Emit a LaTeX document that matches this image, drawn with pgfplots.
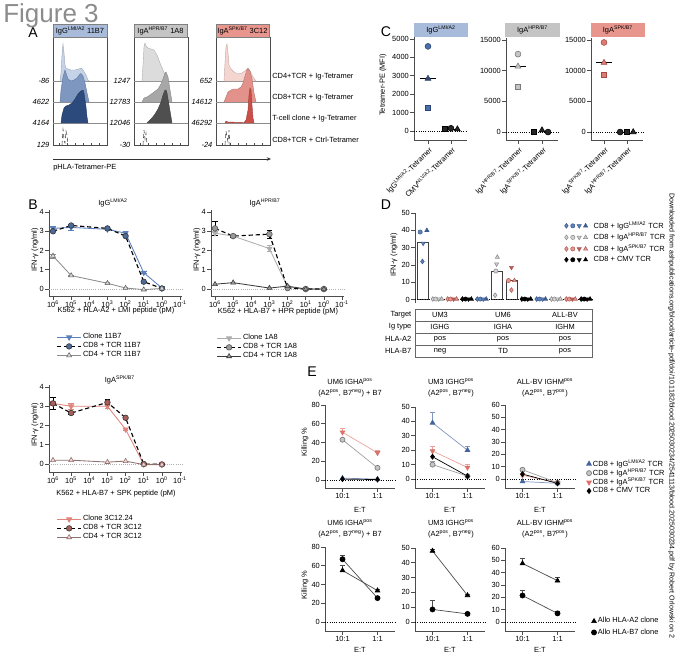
\documentclass[border=0pt]{standalone}
\usepackage{fontspec}
\setmainfont{Liberation Sans}
\usepackage{pgfplots}
\pgfplotsset{compat=1.18}
\usetikzlibrary{arrows.meta}
\pgfkeys{/pgf/number format/.cd, assume math mode=true, 1000 sep={}}

% headers
\definecolor{hdrA}{HTML}{A8BBDA}
\definecolor{hdrB}{HTML}{C4C4C4}
\definecolor{hdrC}{HTML}{E8968D}
% histograms
\definecolor{hb1}{HTML}{C5D3E8}\definecolor{hb2}{HTML}{7D97C0}\definecolor{hb3}{HTML}{2D4A7C}
\definecolor{hg1}{HTML}{DCDCDC}\definecolor{hg2}{HTML}{A7A7A7}\definecolor{hg3}{HTML}{4F4F4F}
\definecolor{hr1}{HTML}{F5D5D0}\definecolor{hr2}{HTML}{E2928A}\definecolor{hr3}{HTML}{C94F48}
% panel C
\definecolor{cb}{HTML}{4A70AB}\definecolor{cbd}{HTML}{2B4570}\definecolor{cnavy}{HTML}{34496E}
\definecolor{cg}{HTML}{C4C4C4}\definecolor{cgd}{HTML}{7A7A7A}
\definecolor{cr}{HTML}{DD7C74}\definecolor{crd}{HTML}{A64A43}
% panel B
\definecolor{b1c}{HTML}{5B80BC}\definecolor{b1d}{HTML}{4C6A97}\definecolor{b1g}{HTML}{8C8C8C}
\definecolor{b2c}{HTML}{ADADAD}\definecolor{b2d}{HTML}{9A9A9A}\definecolor{b2g}{HTML}{3A3A3A}
\definecolor{b3c}{HTML}{E0837A}\definecolor{b3d}{HTML}{A65F5A}\definecolor{b3g}{HTML}{8E7070}
% panel D
\definecolor{dbf}{HTML}{6283B9}\definecolor{dbd}{HTML}{3D5C8F}
\definecolor{dgf}{HTML}{D3D3D3}\definecolor{dgd}{HTML}{8C8C8C}
\definecolor{drf}{HTML}{E39991}\definecolor{drd}{HTML}{B35C55}
% panel E
\definecolor{eb}{HTML}{44649C}\definecolor{ebl}{HTML}{8197C0}
\definecolor{eg}{HTML}{C6C6C6}\definecolor{egd}{HTML}{7E7E7E}\definecolor{egl}{HTML}{A0A0A0}
\definecolor{er}{HTML}{D9726A}\definecolor{erl}{HTML}{E8A39C}

\newcommand{\ft}{\fontsize{5.3}{6}\selectfont}
\newcommand{\ftt}{\fontsize{5.3}{7.6}\selectfont}
\newcommand{\fbig}{\fontsize{10}{12}\selectfont}
\newcommand{\tsup}[1]{\textsuperscript{#1}}

\pgfplotsset{
  base/.style={scale only axis, clip=false,
    axis lines*=left,
    axis line style={-, line width=0.5pt, black!70},
    every tick/.style={line width=0.5pt, black!70},
    major tick length=2.5pt, minor tick length=1.5pt,
    tick align=outside,
    tick label style={font=\ft, inner sep=1pt},
    scaled ticks=false,
    legend style={draw=none, fill=none, font=\ft, legend cell align=left,
      anchor=north west, row sep=-0.8pt, nodes={inner sep=1pt}},
  },
  hbox/.style={scale only axis, width=1.35cm, height=2.7cm,
    xmin=0, xmax=54, ymin=0, ymax=108,
    axis line style={line width=0.4pt, black!70},
    ytick=\empty, xtick={6,14,22,30,38,46}, xticklabels={},
    xtick pos=bottom, tick align=inside, major tick length=1.5pt,
    every tick/.style={black!70, line width=0.4pt}},
  bax/.style={base, width=3.325cm,
    xmin=0.0776, xmax=1.66e6,
    xtick={1e6,1e5,1e4,1e3,1e2,1e1,1e0,1e-1},
    xticklabels={10\tsup{6},10\tsup{5},10\tsup{4},10\tsup{3},10\tsup{2},10\tsup{1},10\tsup{0},10\tsup{-1}},
    ytick={0,1,2,3,4}, ymax=4.104},
  ebar/.style={error bars/y dir=plus, error bars/y explicit,
    error bars/error bar style={solid, line width=0.4pt}},
  bbar/.style={error bars/y dir=both, error bars/y explicit,
    error bars/error bar style={solid, line width=0.4pt}},
  eax/.style={base, width=1.75cm, xmin=0.5, xmax=2.5, xtick={1,2},
    xticklabels={10:1,1:1}},
}

\begin{document}
\begin{tikzpicture}[x=0.025cm, y=-0.025cm]
\path[use as bounding box] (0,0) rectangle (680,660);
\coordinate (a1) at (53,37); \coordinate (a2) at (134,37); \coordinate (a3) at (216,37);
\coordinate (c1) at (414,37); \coordinate (c2) at (506,38); \coordinate (c3) at (591,38);
\coordinate (b1) at (49,210); \coordinate (b2) at (211,210); \coordinate (b3) at (49,385);
\coordinate (d1) at (415,213);
\coordinate (e1) at (325,405); \coordinate (e2) at (415,407); \coordinate (e3) at (505,405);
\coordinate (e4) at (325,547); \coordinate (e5) at (415,548); \coordinate (e6) at (505,548);

% ---------------- A: histograms
\begin{axis}[hbox, at={(a1)}, anchor=north west]
\addplot[black!45, line width=0.3pt, forget plot] coordinates {(0,22) (54,22)};
\addplot[black!45, line width=0.3pt, forget plot] coordinates {(0,43) (54,43)};
\addplot[black!45, line width=0.3pt, forget plot] coordinates {(0,64) (54,64)};
\addplot[fill=hb1, draw=hb1!80!black, line width=0.3pt] coordinates {(7,64) (8,72) (9,90) (10,101) (11,92) (12,80) (13,77) (15,76) (18,75) (22,75) (26,76) (28,77) (30,75) (33,70) (35,65) (36,64)};
\addplot[fill=hb2, draw=hb2!80!black, line width=0.3pt] coordinates {(7,43) (8,55) (10,68) (12,75) (13,72) (15,66) (18,64) (21,65) (24,67) (27,71) (28,71.5) (30,69) (32,62) (34,52) (36,43)};
\addplot[fill=hb3, draw=hb3!80!black, line width=0.3pt] coordinates {(8,22) (9,30) (11,37) (13,39) (16,40) (19,42) (22,46) (25,51) (28,54) (30,55) (31,52) (33,38) (34,28) (35,22)};
\addplot[black!70, densely dashed, line width=0.4pt] coordinates {(9,0) (10,16) (10.5,13) (11,4) (12,2) (13,14) (14,10) (15,0)};
\end{axis}
\begin{axis}[hbox, at={(a2)}, anchor=north west]
\addplot[black!45, line width=0.3pt, forget plot] coordinates {(0,22) (54,22)};
\addplot[black!45, line width=0.3pt, forget plot] coordinates {(0,43) (54,43)};
\addplot[black!45, line width=0.3pt, forget plot] coordinates {(0,64) (54,64)};
\addplot[fill=hg1, draw=hg1!80!black, line width=0.3pt] coordinates {(8,64) (9,80) (10,98) (11,102) (12,99) (14,97) (17,96) (20,95) (23,90) (26,82) (29,75) (32,68) (34,64)};
\addplot[fill=hg2, draw=hg2!80!black, line width=0.3pt] coordinates {(8,43) (10,47) (13,48) (16,50) (20,53) (24,56) (27,61) (29,66) (31,72) (32,73) (34,68) (36,55) (38,43)};
\addplot[fill=hg3, draw=hg3!80!black, line width=0.3pt] coordinates {(13,22) (15,24) (18,27) (21,31) (24,36) (27,43) (29,50) (31,55) (32,55) (33,52) (35,40) (37,28) (38,22)};
\addplot[black!70, densely dashed, line width=0.4pt] coordinates {(9,0) (10,15) (11,6) (12,12) (13,0)};
\end{axis}
\begin{axis}[hbox, at={(a3)}, anchor=north west]
\addplot[black!45, line width=0.3pt, forget plot] coordinates {(0,22) (54,22)};
\addplot[black!45, line width=0.3pt, forget plot] coordinates {(0,43) (54,43)};
\addplot[black!45, line width=0.3pt, forget plot] coordinates {(0,64) (54,64)};
\addplot[fill=hr1, draw=hr1!80!black, line width=0.3pt] coordinates {(8,64) (9,82) (10,98) (11,101) (12,92) (13,80) (15,76) (18,73) (22,71) (26,72) (30,75) (32,77) (34,74) (37,68) (40,64)};
\addplot[fill=hr2, draw=hr2!80!black, line width=0.3pt] coordinates {(8,43) (10,48) (12,53) (15,55) (18,56) (22,56) (25,58) (27,62) (29,69) (31,75) (32,76) (34,74) (36,66) (38,52) (40,43)};
\addplot[fill=hr3, draw=hr3!80!black, line width=0.3pt] coordinates {(9,22) (10,24) (12,23) (28,22.5) (30,25) (32,35) (33,50) (34,57) (35,55) (36,40) (37,27) (38,22)};
\addplot[black!70, densely dashed, line width=0.4pt] coordinates {(9,0) (10,14) (11,8) (12,3) (13,15) (14,0)};
\end{axis}

% ---------------- C: tetramer MFI
\begin{axis}[base, at={(c1)}, anchor=north west, width=1.325cm, height=2.575cm,
  xmin=0.39, xmax=2.7, ymin=-489, ymax=5109, ytick={0,1000,...,5000}, xtick={1,2},
  xticklabels={IgG\tsup{LMI/A2}-Tetramer, CMV\tsup{NLV/A2}-Tetramer},
  xticklabel style={rotate=45, anchor=north east}]
\addplot[black, densely dotted, line width=0.6pt] coordinates {(0.39,0) (2.7,0)};
\addplot[black, line width=0.6pt] coordinates {(0.67,2850) (1.33,2850)};
\addplot[only marks, mark=*, mark size=2.1pt, mark options={fill=cb, draw=cbd}] coordinates {(1,4600)};
\addplot[only marks, mark=triangle*, mark size=2.4pt, mark options={fill=cnavy, draw=cnavy}] coordinates {(1,2850)};
\addplot[only marks, mark=square*, mark size=1.8pt, mark options={fill=cb, draw=cbd}] coordinates {(1,1250)};
\addplot[black, line width=0.6pt] coordinates {(1.67,110) (2.33,110)};
\addplot[only marks, mark=square*, mark size=1.8pt, mark options={fill=black!85, draw=black}] coordinates {(1.72,100)};
\addplot[only marks, mark=*, mark size=2.1pt, mark options={fill=black!85, draw=black}] coordinates {(2,150)};
\addplot[only marks, mark=triangle*, mark size=2.4pt, mark options={fill=black!85, draw=black}] coordinates {(2.28,100)};
\end{axis}
\begin{axis}[base, at={(c2)}, anchor=north west, width=1.3cm, height=2.55cm,
  xmin=0.5, xmax=2.667, ymin=-1304, ymax=15326, ytick={0,5000,10000,15000}, xtick={1,2},
  xticklabels={IgA\tsup{HPR/B7}-Tetramer, IgA\tsup{SPK/B7}-Tetramer},
  xticklabel style={rotate=45, anchor=north east}]
\addplot[black, densely dotted, line width=0.6pt] coordinates {(0.5,0) (2.667,0)};
\addplot[black, line width=0.6pt] coordinates {(0.67,10700) (1.33,10700)};
\addplot[only marks, mark=*, mark size=2.1pt, mark options={fill=cg, draw=cgd}] coordinates {(1,12700)};
\addplot[only marks, mark=triangle*, mark size=2.4pt, mark options={fill=cg, draw=cgd}] coordinates {(1,10700)};
\addplot[only marks, mark=square*, mark size=1.8pt, mark options={fill=cg, draw=cgd}] coordinates {(1,7300)};
\addplot[only marks, mark=square*, mark size=1.8pt, mark options={fill=black!85, draw=black}] coordinates {(1.67,0)};
\addplot[only marks, mark=triangle*, mark size=2.4pt, mark options={fill=black!85, draw=black}] coordinates {(2,300)};
\addplot[only marks, mark=*, mark size=2.1pt, mark options={fill=black!85, draw=black}] coordinates {(2.25,0)};
\end{axis}
\begin{axis}[base, at={(c3)}, anchor=north west, width=1.3cm, height=2.55cm,
  xmin=0.435, xmax=2.696, ymin=-1304, ymax=15326, ytick={0,5000,10000,15000}, xtick={1,2},
  xticklabels={IgA\tsup{SPK/B7}-Tetramer, IgA\tsup{HPR/B7}-Tetramer},
  xticklabel style={rotate=45, anchor=north east}]
\addplot[black, densely dotted, line width=0.6pt] coordinates {(0.435,0) (2.696,0)};
\addplot[black, line width=0.6pt] coordinates {(0.67,11300) (1.33,11300)};
\addplot[only marks, mark=*, mark size=2.1pt, mark options={fill=cr, draw=crd}] coordinates {(1,14600)};
\addplot[only marks, mark=triangle*, mark size=2.4pt, mark options={fill=cr, draw=crd}] coordinates {(1,11300)};
\addplot[only marks, mark=square*, mark size=1.8pt, mark options={fill=cr, draw=crd}] coordinates {(1,9300)};
\addplot[only marks, mark=*, mark size=2.1pt, mark options={fill=black!85, draw=black}] coordinates {(1.7,0)};
\addplot[only marks, mark=square*, mark size=1.8pt, mark options={fill=black!85, draw=black}] coordinates {(2,0)};
\addplot[only marks, mark=triangle*, mark size=2.4pt, mark options={fill=black!85, draw=black}] coordinates {(2.27,0)};
\end{axis}

% ---------------- B: IFN-gamma dose response
\begin{axis}[xmode=log, x dir=reverse, bax, at={(b1)}, anchor=north west, height=2.15cm, ymin=-0.364,
  legend style={at={(0.023,-0.384)}}]
\addplot[forget plot, gray!60, densely dotted, line width=0.5pt] coordinates {(1.66e6,0) (0.0776,0)};
\addplot[b1c, line width=0.6pt, mark=triangle*, mark size=2pt, mark options={solid, rotate=180, fill=b1c, draw=b1c}, bbar]
  coordinates {(1e6,3.15) +- (0,0.1) (1e5,3.2) +- (0,0.15) (1e3,3.1) +- (0,0.05) (1e2,2.9) +- (0,0.1) (1e1,0.85) +- (0,0.05) (1e0,0.05) +- (0,0.02)};
\addplot[black, densely dashed, line width=0.8pt, mark=*, mark size=2pt, mark options={solid, fill=b1d, draw=black!80, line width=0.4pt}]
  coordinates {(1e6,3.0) (1e5,3.3) (1e3,3.15) (1e2,2.75) (1e1,0.38) (1e0,0.03)};
\addplot[b1g, line width=0.6pt, mark=triangle*, mark size=2pt, mark options={solid, fill=gray!30, draw=black!60, line width=0.4pt}, bbar]
  coordinates {(1e6,1.72) +- (0,0.1) (1e5,0.7) +- (0,0.03) (1e3,0.3) +- (0,0.03) (1e2,0.05) +- (0,0.02) (1e1,-0.03) +- (0,0.02) (1e0,0.03) +- (0,0.02)};
\legend{Clone 11B7, CD8 + TCR 11B7, CD4 + TCR 11B7}
\end{axis}
\begin{axis}[xmode=log, x dir=reverse, bax, at={(b2)}, anchor=north west, height=2.15cm, ymin=-0.364,
  legend style={at={(0.0075,-0.395)}}]
\addplot[forget plot, gray!60, densely dotted, line width=0.5pt] coordinates {(1.66e6,0) (0.0776,0)};
\addplot[b2c, line width=0.6pt, mark=triangle*, mark size=2pt, mark options={solid, rotate=180, fill=b2c, draw=b2c}, bbar]
  coordinates {(1e6,2.9) +- (0,0.1) (1e5,2.75) +- (0,0.05) (1e3,2.1) +- (0,0.15) (1e2,0.1) +- (0,0.03) (1e1,0) +- (0,0.02) (1e0,0) +- (0,0.02)};
\addplot[black, densely dashed, line width=0.8pt, mark=*, mark size=2pt, mark options={solid, fill=b2d, draw=black!70, line width=0.4pt}, bbar]
  coordinates {(1e6,3.15) +- (0,0.35) (1e5,2.75) +- (0,0.05) (1e3,2.85) +- (0,0.2) (1e2,0.05) +- (0,0.02) (1e1,0) +- (0,0.02) (1e0,0) +- (0,0.02)};
\addplot[b2g, line width=0.6pt, mark=triangle*, mark size=2pt, mark options={solid, fill=b2d, draw=b2g, line width=0.4pt}]
  coordinates {(1e6,0.25) (1e5,0.33) (1e3,0.05) (1e2,0.15) (1e1,0) (1e0,0)};
\legend{Clone 1A8, CD8 + TCR 1A8, CD4 + TCR 1A8}
\end{axis}
\begin{axis}[xmode=log, x dir=reverse, bax, at={(b3)}, anchor=north west, height=2.175cm, ymin=-0.416,
  legend style={at={(0.023,-0.448)}}]
\addplot[forget plot, gray!60, densely dotted, line width=0.5pt] coordinates {(1.66e6,0) (0.0776,0)};
\addplot[b3c, line width=0.6pt, mark=triangle*, mark size=2pt, mark options={solid, rotate=180, fill=b3c, draw=b3c}, bbar]
  coordinates {(1e6,3.15) +- (0,0.1) (1e5,3.0) +- (0,0.15) (1e3,3.0) +- (0,0.1) (1e2,1.8) +- (0,0.05) (1e1,-0.02) +- (0,0.02) (1e0,-0.02) +- (0,0.02)};
\addplot[black, densely dashed, line width=0.8pt, mark=*, mark size=2pt, mark options={solid, fill=b3d, draw=black!80, line width=0.4pt}, bbar]
  coordinates {(1e6,3.15) +- (0,0.3) (1e5,2.65) +- (0,0.05) (1e3,3.2) +- (0,0.15) (1e2,2.4) +- (0,0.05) (1e1,0) +- (0,0.02) (1e0,-0.02) +- (0,0.02)};
\addplot[b3g, line width=0.6pt, mark=triangle*, mark size=2pt, mark options={solid, fill=b3c!35, draw=b3g, line width=0.4pt}]
  coordinates {(1e6,0.2) (1e5,0.2) (1e3,0.1) (1e2,0.15) (1e1,-0.03) (1e0,-0.03)};
\legend{Clone 3C12.24, CD8 + TCR 3C12, CD4 + TCR 3C12}
\end{axis}

% ---------------- D: IFN-gamma against targets
\begin{axis}[base, at={(d1)}, anchor=north west, width=4.45cm, height=2.25cm,
  axis x line=none, xtick=\empty, xmin=-0.5, xmax=11.5, ymin=-2, ymax=50,
  ytick={0,10,...,50}, legend style={at={(0.815,0.956)}, row sep=0pt}]
\addplot[forget plot, ybar, bar width=0.275cm, fill=white, draw=black!75, line width=0.5pt]
  coordinates {(0,33) (1,0.4) (2,0.4) (3,0.4) (4,0.3) (5,16.5) (6,11) (7,0.4) (8,0.3) (9,0.4) (10,0.4) (11,0.3)};
\addplot[forget plot, black, densely dotted, line width=0.7pt] coordinates {(-0.5,0) (11.5,0)};
% IgG LMI/A2 TCR
\addplot[forget plot, only marks, mark=diamond*, mark size=1.7pt, mark options={fill=dbf, draw=dbd}] coordinates {(0.0,22) (3.7,0.3) (7.7,0.3)};
\addplot[forget plot, only marks, mark=*, mark size=1.5pt, mark options={fill=dbf, draw=dbd}] coordinates {(-0.15,39) (3.9,0.3) (7.9,0.3)};
\addplot[forget plot, only marks, mark=triangle*, mark size=1.7pt, mark options={rotate=180, fill=dbf, draw=dbd}] coordinates {(0.05,32.5) (4.1,0.3) (8.1,0.3)};
\addplot[forget plot, only marks, mark=triangle*, mark size=1.7pt, mark options={fill=dbd, draw=dbd}] coordinates {(0.3,40) (4.3,0.3) (8.3,0.3)};
% IgA HPR/B7 TCR
\addplot[forget plot, only marks, mark=diamond*, mark size=1.7pt, mark options={fill=dgf, draw=dgd}] coordinates {(0.7,0.3) (4.9,2.5) (8.7,0.3)};
\addplot[forget plot, only marks, mark=*, mark size=1.5pt, mark options={fill=dgf, draw=dgd}] coordinates {(0.9,0.3) (4.95,16.5) (8.9,0.3)};
\addplot[forget plot, only marks, mark=triangle*, mark size=1.7pt, mark options={rotate=180, fill=dgf, draw=dgd}] coordinates {(1.1,0.3) (5.0,20.5) (9.1,0.3)};
\addplot[forget plot, only marks, mark=triangle*, mark size=1.7pt, mark options={fill=dgf, draw=dgd}] coordinates {(1.3,0.3) (5.05,24.5) (9.3,0.3)};
% IgA SPK/B7 TCR
\addplot[forget plot, only marks, mark=diamond*, mark size=1.7pt, mark options={fill=drf, draw=drd}] coordinates {(1.7,0.3) (6.0,5.5) (9.7,0.3)};
\addplot[forget plot, only marks, mark=*, mark size=1.5pt, mark options={fill=drf, draw=drd}] coordinates {(1.9,0.3) (5.8,11) (9.9,0.3)};
\addplot[forget plot, only marks, mark=triangle*, mark size=1.7pt, mark options={rotate=180, fill=drd, draw=drd}] coordinates {(2.1,0.3) (6.0,18.5) (10.1,0.3)};
\addplot[forget plot, only marks, mark=triangle*, mark size=1.7pt, mark options={fill=drf, draw=drd}] coordinates {(2.3,0.3) (6.2,11) (10.3,0.3)};
% CMV TCR
\addplot[forget plot, only marks, mark=diamond*, mark size=1.7pt, mark options={fill=black, draw=black}] coordinates {(2.7,0.3) (6.7,0.3) (10.7,0.3)};
\addplot[forget plot, only marks, mark=*, mark size=1.5pt, mark options={fill=black, draw=black}] coordinates {(2.9,0.3) (6.9,0.3) (10.9,0.3)};
\addplot[forget plot, only marks, mark=triangle*, mark size=1.7pt, mark options={rotate=180, fill=black, draw=black}] coordinates {(3.1,0.3) (7.1,0.3) (11.1,0.3)};
\addplot[forget plot, only marks, mark=triangle*, mark size=1.7pt, mark options={fill=black, draw=black}] coordinates {(3.3,0.3) (7.3,0.3) (11.3,0.3)};
\addlegendimage{legend image code/.code={
  \draw plot[only marks, mark=diamond*, mark size=1.7pt, mark options={fill=dbf, draw=dbd}] coordinates {(0cm,0cm)};
  \draw plot[only marks, mark=*, mark size=1.5pt, mark options={fill=dbf, draw=dbd}] coordinates {(0.16cm,0cm)};
  \draw plot[only marks, mark=triangle*, mark size=1.7pt, mark options={rotate=180, fill=dbf, draw=dbd}] coordinates {(0.32cm,0cm)};
  \draw plot[only marks, mark=triangle*, mark size=1.7pt, mark options={fill=dbd, draw=dbd}] coordinates {(0.48cm,0cm)};
  \path (0.64cm,0cm);}}
\addlegendimage{legend image code/.code={
  \draw plot[only marks, mark=diamond*, mark size=1.7pt, mark options={fill=dgf, draw=dgd}] coordinates {(0cm,0cm)};
  \draw plot[only marks, mark=*, mark size=1.5pt, mark options={fill=dgf, draw=dgd}] coordinates {(0.16cm,0cm)};
  \draw plot[only marks, mark=triangle*, mark size=1.7pt, mark options={rotate=180, fill=dgf, draw=dgd}] coordinates {(0.32cm,0cm)};
  \draw plot[only marks, mark=triangle*, mark size=1.7pt, mark options={fill=dgf, draw=dgd}] coordinates {(0.48cm,0cm)};
  \path (0.64cm,0cm);}}
\addlegendimage{legend image code/.code={
  \draw plot[only marks, mark=diamond*, mark size=1.7pt, mark options={fill=drf, draw=drd}] coordinates {(0cm,0cm)};
  \draw plot[only marks, mark=*, mark size=1.5pt, mark options={fill=drf, draw=drd}] coordinates {(0.16cm,0cm)};
  \draw plot[only marks, mark=triangle*, mark size=1.7pt, mark options={rotate=180, fill=drd, draw=drd}] coordinates {(0.32cm,0cm)};
  \draw plot[only marks, mark=triangle*, mark size=1.7pt, mark options={fill=drf, draw=drd}] coordinates {(0.48cm,0cm)};
  \path (0.64cm,0cm);}}
\addlegendimage{legend image code/.code={
  \draw plot[only marks, mark=diamond*, mark size=1.7pt, mark options={fill=black, draw=black}] coordinates {(0cm,0cm)};
  \draw plot[only marks, mark=*, mark size=1.5pt, mark options={fill=black, draw=black}] coordinates {(0.16cm,0cm)};
  \draw plot[only marks, mark=triangle*, mark size=1.7pt, mark options={rotate=180, fill=black, draw=black}] coordinates {(0.32cm,0cm)};
  \draw plot[only marks, mark=triangle*, mark size=1.7pt, mark options={fill=black, draw=black}] coordinates {(0.48cm,0cm)};
  \path (0.64cm,0cm);}}
\legend{CD8 + IgG\tsup{LMI/A2} TCR, CD8 + IgA\tsup{HPR/B7} TCR, CD8 + IgA\tsup{SPK/B7} TCR, CD8 + CMV TCR}
\end{axis}

% ---------------- E: killing
\begin{axis}[eax, at={(e1)}, anchor=north west, height=2.075cm, ymin=-8.53, ymax=80, ytick={0,20,...,80}]
\addplot[forget plot, black, densely dotted, line width=0.6pt] coordinates {(0.5,0) (2.5,0)};
\addplot[ebl, line width=0.5pt, mark=triangle*, mark size=1.9pt, mark options={fill=eb, draw=eb}] coordinates {(1,2) (2,1)};
\addplot[egl, line width=0.5pt, mark=*, mark size=1.8pt, mark options={fill=eg, draw=egd}, ebar] coordinates {(1,43) +- (0,2) (2,13) +- (0,1)};
\addplot[erl, line width=0.5pt, mark=triangle*, mark size=1.9pt, mark options={rotate=180, fill=er, draw=er}, ebar] coordinates {(1,51) +- (0,4) (2,29) +- (0,3)};
\addplot[black, line width=0.5pt, mark=diamond*, mark size=1.8pt, mark options={fill=black, draw=black}] coordinates {(1,1) (2,0.5)};
\end{axis}
\begin{axis}[eax, at={(e2)}, anchor=north west, height=2.025cm, ymin=-6.25, ymax=50, ytick={0,10,...,50}]
\addplot[forget plot, black, densely dotted, line width=0.6pt] coordinates {(0.5,0) (2.5,0)};
\addplot[ebl, line width=0.5pt, mark=triangle*, mark size=1.9pt, mark options={fill=eb, draw=eb}, ebar] coordinates {(1,39) +- (0,7) (2,20) +- (0,3)};
\addplot[egl, line width=0.5pt, mark=*, mark size=1.8pt, mark options={fill=eg, draw=egd}, ebar] coordinates {(1,10) +- (0,2) (2,2) +- (0,0.5)};
\addplot[erl, line width=0.5pt, mark=triangle*, mark size=1.9pt, mark options={rotate=180, fill=er, draw=er}, ebar] coordinates {(1,19.5) +- (0,3.5) (2,8) +- (0,2)};
\addplot[black, line width=0.5pt, mark=diamond*, mark size=1.8pt, mark options={fill=black, draw=black}] coordinates {(1,15.5) (2,2)};
\end{axis}
\begin{axis}[eax, at={(e3)}, anchor=north west, height=2.075cm, ymin=-7.3, ymax=60, ytick={0,10,...,60},
  legend style={at={(1.1,0.398)}, row sep=-1.6pt},
  legend image code/.code={\draw[#1] plot[only marks] coordinates {(0.1cm,0cm)};}]
\addplot[forget plot, black, densely dotted, line width=0.6pt] coordinates {(0.5,0) (2.5,0)};
\addplot[ebl, line width=0.5pt, mark=triangle*, mark size=1.9pt, mark options={fill=eb, draw=eb}] coordinates {(1,-2) (2,-3.5)};
\addplot[egl, line width=0.5pt, mark=*, mark size=1.8pt, mark options={fill=eg, draw=egd}, ebar] coordinates {(1,7.5) +- (0,1) (2,-3) +- (0,0.5)};
\addplot[erl, line width=0.5pt, mark=triangle*, mark size=1.9pt, mark options={rotate=180, fill=er, draw=er}, ebar] coordinates {(1,3) +- (0,1) (2,-3) +- (0,0.5)};
\addplot[black, line width=0.5pt, mark=diamond*, mark size=1.8pt, mark options={fill=black, draw=black}] coordinates {(1,4) (2,-3.5)};
\legend{CD8 + IgG\tsup{LMI/A2} TCR, CD8 + IgA\tsup{HPR/B7} TCR, CD8 + IgA\tsup{SPK/B7} TCR, CD8 + CMV TCR}
\end{axis}
\begin{axis}[eax, at={(e4)}, anchor=north west, height=2.1cm, ymin=-9.6, ymax=80, ytick={0,20,...,80}]
\addplot[forget plot, black, densely dotted, line width=0.6pt] coordinates {(0.5,0) (2.5,0)};
\addplot[black!70, line width=0.5pt, mark=triangle*, mark size=1.9pt, mark options={fill=black, draw=black}, ebar] coordinates {(1,55) +- (0,5) (2,33.5) +- (0,1.5)};
\addplot[black!70, line width=0.5pt, mark=*, mark size=1.8pt, mark options={fill=black, draw=black}, ebar] coordinates {(1,67) +- (0,4) (2,25.5) +- (0,0.5)};
\end{axis}
\begin{axis}[eax, at={(e5)}, anchor=north west, height=2.075cm, ymin=-6.08, ymax=50, ytick={0,10,...,50}]
\addplot[forget plot, black, densely dotted, line width=0.6pt] coordinates {(0.5,0) (2.5,0)};
\addplot[black!70, line width=0.5pt, mark=triangle*, mark size=1.9pt, mark options={fill=black, draw=black}, ebar] coordinates {(1,48) +- (0,1) (2,18) +- (0,1)};
\addplot[black!70, line width=0.5pt, mark=*, mark size=1.8pt, mark options={fill=black, draw=black}, ebar] coordinates {(1,8.5) +- (0,6) (2,5.5) +- (0,0.5)};
\end{axis}
\begin{axis}[eax, at={(e6)}, anchor=north west, height=2.075cm, ymin=-7.3, ymax=60, ytick={0,10,...,60},
  legend style={at={(1.171,0.217)}, row sep=0.6pt},
  legend image code/.code={\draw[#1] plot[only marks] coordinates {(0.1cm,0cm)};}]
\addplot[forget plot, black, densely dotted, line width=0.6pt] coordinates {(0.5,0) (2.5,0)};
\addplot[black!70, line width=0.5pt, mark=triangle*, mark size=1.9pt, mark options={fill=black, draw=black}, ebar] coordinates {(1,47.5) +- (0,4.5) (2,33.5) +- (0,2.5)};
\addplot[black!70, line width=0.5pt, mark=*, mark size=1.8pt, mark options={fill=black, draw=black}, ebar] coordinates {(1,21.5) +- (0,4) (2,7) +- (0,1.5)};
\legend{Allo HLA-A2 clone, Allo HLA-B7 clone}
\end{axis}

% ---------------- texts
\node[anchor=base west, font=\fontsize{18.5}{20}\selectfont, text=black!45, inner sep=0] at (3,22) {Figure 3};
\node[font=\fbig] at (33,33) {A};
\node[font=\fbig] at (386,32) {C};
\node[font=\fbig] at (33,205) {B};
\node[font=\fbig] at (386,205) {D};
\node[font=\fbig] at (312,372) {E};

% A headers and labels
\draw[fill=hdrA, draw=black!50, line width=0.3pt] (53,24) rectangle (107,37);
\draw[fill=hdrB, draw=black!50, line width=0.3pt] (134,24) rectangle (187,37);
\draw[fill=hdrC, draw=black!50, line width=0.3pt] (216,24) rectangle (269,37);
\node[font=\ft] at (80,30.5) {IgG\tsup{LMI/A2} 11B7};
\node[font=\ft] at (160.5,30.5) {IgA\tsup{HPR/B7} 1A8};
\node[font=\ft] at (242.5,30.5) {IgA\tsup{SPK/B7} 3C12};
\foreach \v/\y in {-86/81, 4622/102, 4164/123, 129/145}
  \node[font=\ft\itshape, anchor=east, inner sep=1pt] at (51,\y) {\v};
\foreach \v/\y in {1247/81, 12783/102, 12046/123, -30/145}
  \node[font=\ft\itshape, anchor=east, inner sep=1pt] at (132,\y) {\v};
\foreach \v/\y in {652/81, 14612/102, 46292/123, -24/145}
  \node[font=\ft\itshape, anchor=east, inner sep=1pt] at (214,\y) {\v};
\node[font=\ft, anchor=west, inner sep=0] at (272,77) {CD4+TCR + Ig-Tetramer};
\node[font=\ft, anchor=west, inner sep=0] at (272,98) {CD8+TCR + Ig-Tetramer};
\node[font=\ft, anchor=west, inner sep=0] at (272,119) {T-cell clone + Ig-Tetramer};
\node[font=\ft, anchor=west, inner sep=0] at (272,140) {CD8+TCR + Ctrl-Tetramer};
\draw[-{Stealth[length=3pt,width=2.5pt]}, line width=0.5pt, black!80] (53,159) -- (271,159);
\node[font=\ft, anchor=west, inner sep=0] at (53,168) {pHLA-Tetramer-PE};

% C headers and label
\fill[hdrA] (414,23) rectangle (468,37);
\fill[hdrB] (505,23) rectangle (560,37);
\fill[hdrC] (591,23) rectangle (645,37);
\node[font=\ft] at (441,30) {IgG\tsup{LMI/A2}};
\node[font=\ft] at (532.5,30) {IgA\tsup{HPR/B7}};
\node[font=\ft] at (618,30) {IgA\tsup{SPK/B7}};
\node[font=\ft, rotate=90] at (383,85) {Tetramer-PE (MFI)};

% B titles and labels
\node[font=\ft] at (113,203) {IgG\tsup{LMI/A2}};
\node[font=\ft] at (265,203) {IgA\tsup{HPR/B7}};
\node[font=\ft] at (120,380) {IgA\tsup{SPK/B7}};
\node[font=\ft, rotate=90] at (35,250) {IFN-γ (ng/ml)};
\node[font=\ft, rotate=90] at (197,250) {IFN-γ (ng/ml)};
\node[font=\ft, rotate=90] at (35,425) {IFN-γ (ng/ml)};
\node[font=\ft] at (116,311) {K562 + HLA-A2 + LMI peptide (pM)};
\node[font=\ft] at (278,312) {K562 + HLA-B7 + HPR peptide (pM)};
\node[font=\ft] at (116,494) {K562 + HLA-B7 + SPK peptide (pM)};

% D label and table
\node[font=\ft, rotate=90] at (394,255) {IFN-γ (ng/ml)};
\draw[black!60, line width=0.5pt] (415,309) rectangle (592,357);
\foreach \y in {321,333,345} \draw[black!60, line width=0.5pt] (415,\y) -- (592,\y);
\foreach \t/\y in {Target/315, Ig type/327, HLA-A2/339, HLA-B7/351}
  \node[font=\ft, anchor=east, inner sep=1pt] at (413,\y) {\t};
\foreach \a/\b/\c/\d/\x in {UM3/IGHG/pos/neg/440, UM6/IGHA/pos/TD/503, ALL-BV/IGHM/pos/pos/565} {
  \node[font=\ft] at (\x,315) {\a};
  \node[font=\ft] at (\x,327) {\b};
  \node[font=\ft] at (\x,339) {\c};
  \node[font=\ft] at (\x,351) {\d};
}

% E titles and labels
\node[font=\ftt, align=center] at (350,388) {UM6 IGHA\tsup{pos}\\(A2\tsup{pos}, B7\tsup{neg}) + B7};
\node[font=\ftt, align=center] at (451,388) {UM3 IGHG\tsup{pos}\\(A2\tsup{pos}, B7\tsup{neg})};
\node[font=\ftt, align=center] at (545,388) {ALL-BV IGHM\tsup{pos}\\(A2\tsup{pos}, B7\tsup{pos})};
\node[font=\ftt, align=center] at (350,529) {UM6 IGHA\tsup{pos}\\(A2\tsup{pos}, B7\tsup{neg}) + B7};
\node[font=\ftt, align=center] at (451,529) {UM3 IGHG\tsup{pos}\\(A2\tsup{pos}, B7\tsup{neg})};
\node[font=\ftt, align=center] at (545,529) {ALL-BV IGHM\tsup{pos}\\(A2\tsup{pos}, B7\tsup{pos})};
\node[font=\ft, rotate=90] at (305,442) {Killing \%};
\node[font=\ft, rotate=90] at (305,585) {Killing \%};
\foreach \x in {360,450,540} {
  \node[font=\ft] at (\x,510) {E:T};
  \node[font=\ft] at (\x,650) {E:T};
}

% download strip
\node[font=\fontsize{5}{6}\selectfont, rotate=-90, anchor=north west, inner sep=0] at (675,193)
  {Downloaded from ashpublications.org/blood/article-pdf/doi/10.1182/blood.2025030234/2541113/blood.2025030234.pdf by Robert Orlowski on 2};
\end{tikzpicture}
\end{document}
